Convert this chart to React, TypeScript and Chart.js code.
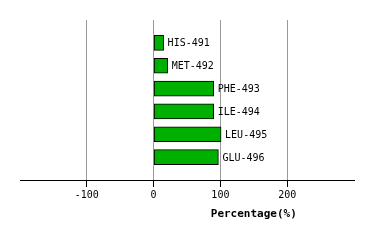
import React, { useEffect, useRef } from "react";
import { Chart, registerables } from "chart.js";

Chart.register(...registerables);

const categories = ["HIS-491", "MET-492", "PHE-493", "ILE-494", "LEU-495", "GLU-496"];
const values = [15, 21, 90, 90, 101, 97];
const xMin = -200;
const xMax = 300;
const tickStep = 100;
const axisTitle = "Percentage(%)";
const titleValue = 150;

export default function App() {
  const ref = useRef<HTMLCanvasElement | null>(null);
  useEffect(() => {
    if (!ref.current) return;
    const labels = ["", ...categories, ""];
    const data = [null, ...values, null];
    const labelPlugin = {
      id: "barLabels",
      afterDatasetsDraw(chart: any) {
        const ctx = chart.ctx;
        const meta = chart.getDatasetMeta(0);
        ctx.save();
        ctx.font = "10px 'DejaVu Sans Mono'";
        ctx.fillStyle = "#000";
        ctx.textBaseline = "middle";
        ctx.textAlign = "left";
        meta.data.forEach((el: any, i: number) => {
          if (data[i] == null) return;
          ctx.fillText(labels[i], el.x + 4, el.y + 1);
        });
        const xs = chart.scales.x;
        ctx.font = "bold 11px 'DejaVu Sans Mono'";
        ctx.textAlign = "center";
        ctx.fillText(axisTitle, xs.getPixelForValue(titleValue), 214);
        ctx.restore();
      },
    };
    const chart = new Chart(ref.current, {
      type: "bar",
      data: {
        labels,
        datasets: [
          {
            data: data as any,
            backgroundColor: "#00b000",
            borderColor: "#000",
            borderWidth: 1,
            borderSkipped: false,
            barThickness: 15,
          },
        ],
      },
      options: {
        indexAxis: "y",
        animation: false,
        responsive: false,
        layout: { padding: { left: 20, right: 20, top: 20, bottom: 0 } },
        plugins: { legend: { display: false }, tooltip: { enabled: false } },
        scales: {
          y: {
            display: false,
            offset: false,
          },
          x: {
            min: xMin,
            max: xMax,
            afterFit(scale: any) {
              scale.height = 60;
            },
            border: { display: true, color: "#000", width: 1 },
            grid: {
              color: (c: any) =>
                c.tick && (c.tick.value === xMin || c.tick.value === xMax) ? "rgba(0,0,0,0)" : "#999999",
              tickColor: (c: any) =>
                c.tick && (c.tick.value === xMin || c.tick.value === xMax) ? "rgba(0,0,0,0)" : "#000",
              tickLength: 7,
              lineWidth: 1,
            },
            ticks: {
              stepSize: tickStep,
              padding: 2,
              color: "#000",
              font: { family: "'DejaVu Sans Mono'", size: 10 },
              callback: (v: any) => (v === xMin || v === xMax ? "" : String(v)),
            },
          },
        },
      },
      plugins: [labelPlugin],
    });
    return () => chart.destroy();
  }, []);
  return (
    <div style={{ position: "absolute", left: 0, top: 0, width: 374, height: 240, background: "#fff" }}>
      <canvas ref={ref} width={374} height={240} style={{ width: 374, height: 240 }} />
    </div>
  );
}
